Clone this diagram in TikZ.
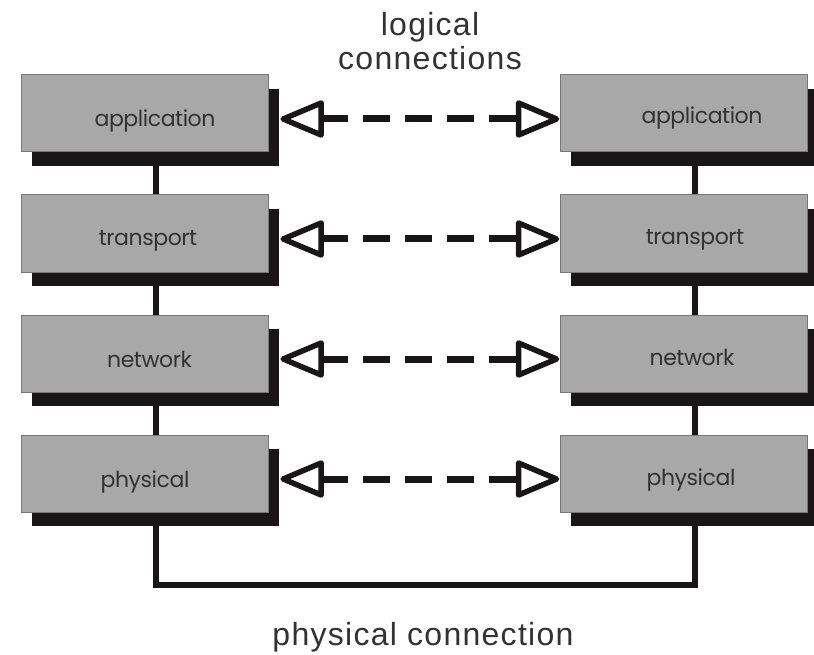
\documentclass[tikz,border=0pt]{standalone}
\usepackage{fontspec}
\setmainfont{Liberation Sans}[LetterSpace=4]
\newfontfamily\layerfont{Poppins}[LetterSpace=-2]
\begin{document}
\begin{tikzpicture}[x=1pt,y=-1pt,
  layerbox/.style={rectangle, minimum width=247pt, minimum height=77pt, inner sep=0pt,
    fill=boxgray, draw=boxedge, line width=1pt},
  shadowbox/.style={rectangle, minimum width=247pt, minimum height=77pt, inner sep=0pt,
    fill=shadowblack},
  layerlabel/.style={anchor=base, inner sep=0pt, text=labelgray,
    font=\layerfont\fontsize{22}{24}\selectfont},
  caption/.style={align=center, inner sep=0pt, text=labelgray,
    font=\fontsize{32}{34}\selectfont},
  wire/.style={line width=6pt, draw=shadowblack},
  dashconn/.style={line width=7pt, draw=shadowblack, dash pattern=on 27pt off 15pt},
  hollowtip/.style={line width=5.5pt, draw=shadowblack, fill=white, line join=round}]

\definecolor{boxgray}{RGB}{168,168,168}
\definecolor{boxedge}{RGB}{120,120,120}
\definecolor{shadowblack}{RGB}{24,22,22}
\definecolor{labelgray}{RGB}{50,50,50}

\useasboundingbox (0,0) rectangle (814,655);

% drop shadows first, then the layer boxes on top
\foreach \n/\y in {A/113.5, T/233.5, N/353.5, P/473.5} {
  \node[shadowbox] (ls\n) at (155.5,\y+14) {};
  \node[shadowbox] (rs\n) at (694.5,\y+14) {};
  \node[layerbox] (l\n) at (144.5,\y) {};
  \node[layerbox] (r\n) at (683.5,\y) {};
}

% layer names
\node[layerlabel] (ltA) at (155,127) {application};
\node[layerlabel] (ltT) at (148,246) {transport};
\node[layerlabel] (ltN) at (149.5,367) {network};
\node[layerlabel] (ltP) at (145,487) {physical};
\node[layerlabel] (rtA) at (702,124) {application};
\node[layerlabel] (rtT) at (695,245) {transport};
\node[layerlabel] (rtN) at (692,365) {network};
\node[layerlabel] (rtP) at (691,485) {physical};

% vertical links inside each stack
\foreach \a/\b in {A/T, T/N, N/P} {
  \draw[wire] (ls\a.south) -- (ls\a.south |- l\b.north);
  \draw[wire] (rs\a.south) -- (rs\a.south |- r\b.north);
}

% physical link between the two stacks
\coordinate (bot) at (420,585);
\draw[wire] (lsP.south) |- (bot) -| (rsP.south);

% logical peer-to-peer links
\foreach \n in {A,T,N,P} {
  \coordinate (la\n) at ([shift={(4,-8.5)}]ls\n.east);
  \coordinate (ra\n) at ([shift={(-3,5.5)}]r\n.west);
  \draw[dashconn] ([xshift=38pt]la\n) -- ([xshift=-38pt]ra\n);
  \draw[hollowtip] (la\n) -- ++(38,-16) -- ++(0,32) -- cycle;
  \draw[hollowtip] (ra\n) -- ++(-38,-16) -- ++(0,32) -- cycle;
}

% captions
\node[caption, anchor=base] (logical) at (430,36) {logical};
\node[caption, anchor=base] (logical2) at (430,70) {connections};
\node[caption, anchor=base] (physical) at (423,645) {physical connection};
\end{tikzpicture}
\end{document}
